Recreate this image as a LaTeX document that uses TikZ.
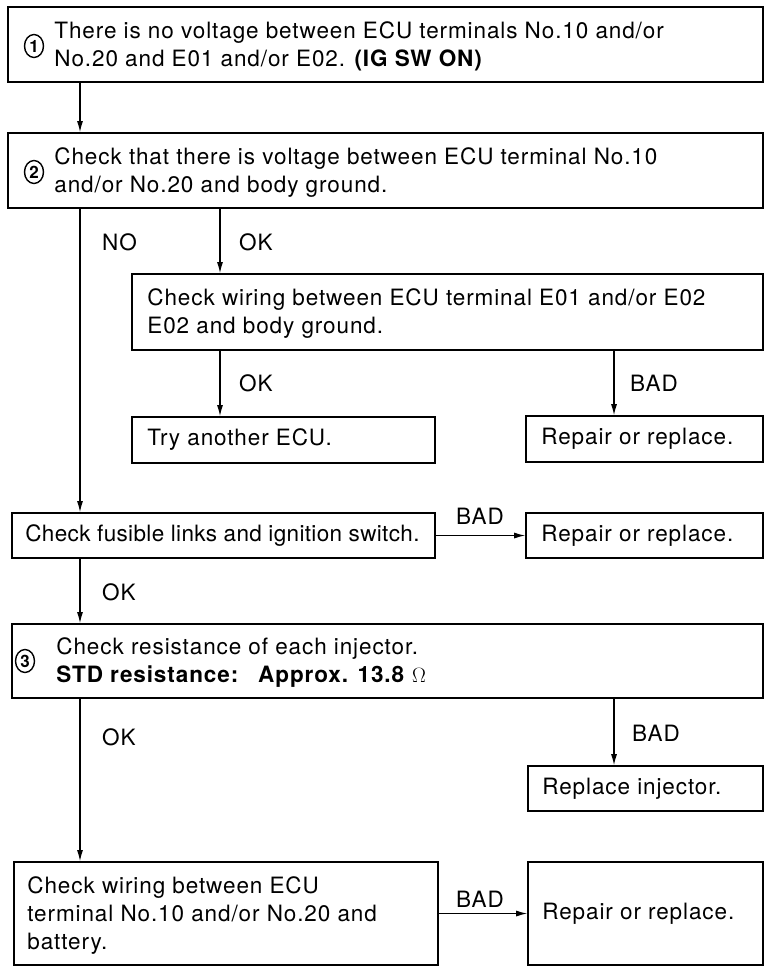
\documentclass[tikz,border=0pt]{standalone}
\usepackage{fontspec}
\setmainfont{TeX Gyre Heros}[LetterSpace=4]
\usetikzlibrary{arrows.meta,shapes.geometric}
\begin{document}
\begin{tikzpicture}[x=1pt,y=-1pt,
  box/.style={draw, line width=1.6pt, rectangle, inner sep=0pt},
  txt/.style={anchor=west, align=left, inner sep=0pt, font=\fontsize{22.5}{28}\selectfont},
  lbl/.style={inner sep=0pt, font=\fontsize{22.5}{28}\selectfont},
  arr/.style={line width=1.2pt, -{Latex[length=11pt,width=6pt]}},
  num/.style={draw, ellipse, line width=1.4pt, minimum width=19pt, minimum height=23pt, inner sep=0pt, font=\fontsize{17}{17}\selectfont\bfseries}]
\useasboundingbox (0,0) rectangle (765,967);
\coordinate (l1) at (80,0);
\coordinate (l2) at (220,0);
\coordinate (l3) at (614,0);
% boxes
\node[box, minimum width=755pt, minimum height=75pt] (b1) at (385.5,44.5) {};
\node[txt] (t1) at ([xshift=47pt,yshift=-2pt]b1.west) {There is no voltage between ECU terminals No.10 and/or\\No.20 and E01 and/or E02. {\bfseries (IG SW ON)}};
\node[num] (c1) at (34,46) {1};
\node[box, minimum width=755pt, minimum height=75pt] (b2) at (385.5,170.5) {};
\node[txt] (t2) at ([xshift=47pt,yshift=-2pt]b2.west) {Check that there is voltage between ECU terminal No.10\\and/or No.20 and body ground.};
\node[num] (c2) at (34,172) {2};
\node[box, minimum width=631pt, minimum height=76pt] (b3) at (447.5,312) {};
\node[txt] (t3) at ([xshift=16pt,yshift=-2pt]b3.west) {Check wiring between ECU terminal E01 and/or E02\\E02 and body ground.};
\node[box, minimum width=303pt, minimum height=46pt] (try) at (283.5,440) {};
\node[txt] (ttry) at ([xshift=16pt]try.west) {Try another ECU.};
\node[box, minimum width=237pt, minimum height=46pt] (rep1) at (644.5,439) {};
\node[txt] (trep1) at ([xshift=16pt]rep1.west) {Repair or replace.};
\node[box, minimum width=423pt, minimum height=45pt] (fus) at (223.5,535.5) {};
\node[txt] (tfus) at ([xshift=14pt]fus.west) {\addfontfeatures{LetterSpace=1.5}Check fusible links and ignition switch.};
\node[box, minimum width=237pt, minimum height=45pt] (rep2) at (644.5,535.5) {};
\node[txt] (trep2) at ([xshift=16pt]rep2.west) {Repair or replace.};
\node[box, minimum width=751pt, minimum height=74pt] (b4) at (387.5,661) {};
\node[txt] (t4) at ([xshift=45pt,yshift=-2pt]b4.west) {Check resistance of each injector.\\{\bfseries STD resistance:\hspace{20pt}Approx. 13.8}\hspace{8pt}$\Omega$};
\node[num] (c3) at (25,661) {3};
\node[box, minimum width=235pt, minimum height=45pt] (rinj) at (645.5,788.5) {};
\node[txt] (trinj) at ([xshift=15pt]rinj.west) {Replace injector.};
\node[box, minimum width=424pt, minimum height=103pt] (b5) at (226,913.5) {};
\node[txt] (t5) at ([xshift=14pt,yshift=-2pt]b5.west) {Check wiring between ECU\\terminal No.10 and/or No.20 and\\battery.};
\node[box, minimum width=235pt, minimum height=103pt] (rep3) at (645.5,913.5) {};
\node[txt] (trep3) at ([xshift=15pt]rep3.west) {Repair or replace.};
% labels
\node[lbl, anchor=west] (lno) at (102,242) {NO};
\node[lbl, anchor=west] (lok1) at (239,242) {OK};
\node[lbl, anchor=west] (lok2) at (239,383) {OK};
\node[lbl, anchor=west] (lbad1) at (630,383) {BAD};
\node[lbl] (lbad2) at (480,516) {BAD};
\node[lbl, anchor=west] (lok3) at (102,592) {OK};
\node[lbl, anchor=west] (lok4) at (102,737) {OK};
\node[lbl, anchor=west] (lbad3) at (632,733) {BAD};
\node[lbl] (lbad4) at (480,899) {BAD};
% connectors
\draw[arr] (b1.south -| l1) -- (b2.north -| l1);
\draw[arr] (b2.south -| l1) -- (fus.north -| l1);
\draw[arr] (b2.south -| l2) -- (b3.north -| l2);
\draw[arr] (b3.south -| l2) -- (try.north -| l2);
\draw[arr] (b3.south -| l3) -- (rep1.north -| l3);
\draw[arr] (fus.east) -- (rep2.west);
\draw[arr] (fus.south -| l1) -- (b4.north -| l1);
\draw[arr] (b4.south -| l1) -- (b5.north -| l1);
\draw[arr] (b4.south -| l3) -- (rinj.north -| l3);
\draw[arr] (b5.east) -- (b5.east -| rep3.west);
\end{tikzpicture}
\end{document}
